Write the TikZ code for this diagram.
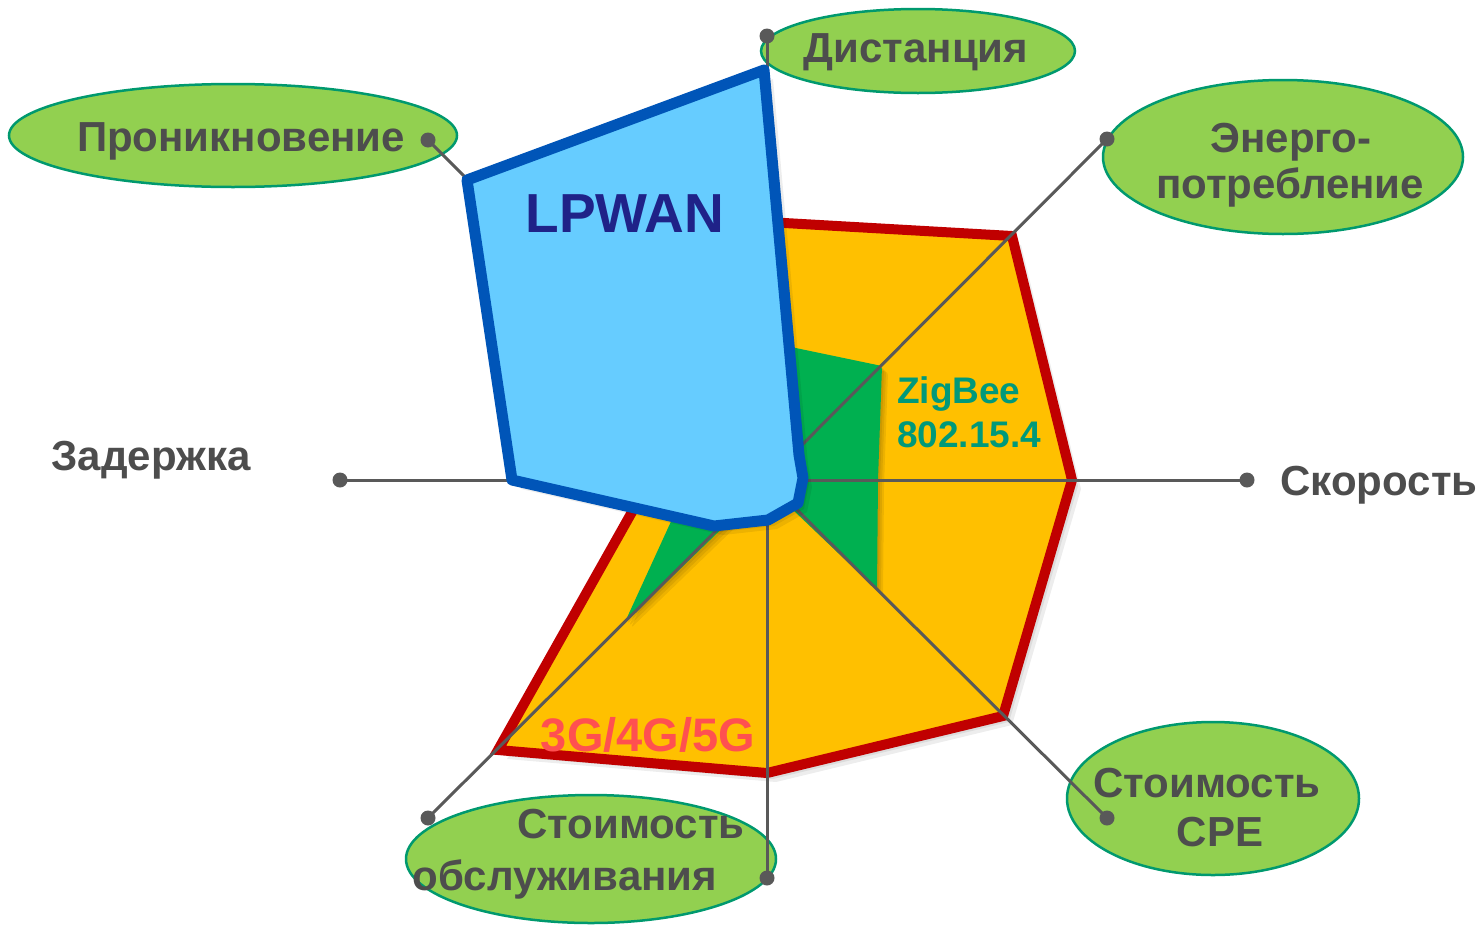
\documentclass[tikz,border=0pt]{standalone}
\usepackage{fontspec}
\setmainfont{Liberation Sans}
\usetikzlibrary{shapes.geometric}
\definecolor{bubblefill}{HTML}{92D050}
\definecolor{bubbleline}{HTML}{00996E}
\definecolor{axisgrey}{HTML}{595959}
\definecolor{labelgrey}{HTML}{4D4D4D}
\definecolor{orangefill}{HTML}{FFC000}
\definecolor{redline}{HTML}{C00000}
\definecolor{greenfill}{HTML}{00B050}
\definecolor{bluefill}{HTML}{66CCFF}
\definecolor{blueline}{HTML}{0055B8}
\definecolor{navytext}{HTML}{1F2288}
\definecolor{tealtext}{HTML}{00997A}
\definecolor{redtext}{HTML}{FF5050}
\tikzset{
  bubble/.style={ellipse, draw=bubbleline, fill=bubblefill, line width=2.5pt, inner sep=0pt},
  lbl/.style={font=\bfseries\fontsize{42pt}{48pt}\selectfont, text=labelgrey, anchor=base, inner sep=0pt},
  axisline/.style={draw=axisgrey, line width=3pt},
  enddot/.style={circle, fill=axisgrey, minimum size=15pt, inner sep=0pt},
  shadowfill/.style={fill=black, fill opacity=0.07},
}
\begin{document}
\begin{tikzpicture}[x=1pt,y=-1pt]
\useasboundingbox (0,0) rectangle (1480,924);

% bubbles
\node[bubble, minimum width=448pt, minimum height=103pt] (bpen) at (233,135.5) {};
\node[bubble, minimum width=314pt, minimum height=84pt] (bdist) at (918,51) {};
\node[bubble, minimum width=360pt, minimum height=154pt] (benergy) at (1283,157) {};
\node[bubble, minimum width=292pt, minimum height=153pt] (bcpe) at (1213,798.5) {};
\node[bubble, minimum width=370pt, minimum height=128pt] (bserv) at (591,859) {};

% orange polygon (3G/4G/5G)
\foreach \s in {3,6,9}
  \fill[shadowfill, shift={(\s,\s)}] (767,222) -- (1012,236) -- (1072,480) -- (1003,716) -- (767,773) -- (498,750) -- (650,480) -- (700,413) -- cycle;
\filldraw[fill=orangefill, draw=redline, line width=10pt, line join=miter]
  (767,222) -- (1012,236) -- (1072,480) -- (1003,716) -- (767,773) -- (498,750) -- (650,480) -- (700,413) -- cycle;

% green polygon (ZigBee)
\foreach \s in {2,4,6}
  \fill[shadowfill, shift={(\s,\s)}, rounded corners=3pt] (767,342) -- (882,366) -- (878,480) -- (877,590) -- (767,485) -- (625,622) -- (690,480) -- (715,428) -- cycle;
\fill[greenfill, rounded corners=3pt]
  (767,342) -- (882,366) -- (878,480) -- (877,590) -- (767,485) -- (625,622) -- (690,480) -- (715,428) -- cycle;

% axes
\coordinate (c) at (767,480);
\node[enddot] (dpen) at (428,140) {};
\node[enddot] (ddist) at (767,36) {};
\node[enddot] (denergy) at (1107,139) {};
\node[enddot] (dspeed) at (1247,480) {};
\node[enddot] (dcpe) at (1107,818) {};
\node[enddot] (dserv) at (767,878) {};
\node[enddot] (dmaint) at (428,818) {};
\node[enddot] (ddelay) at (340,480) {};
\foreach \d in {dpen,ddist,denergy,dspeed,dcpe,dserv,dmaint,ddelay}
  \draw[axisline] (c) -- (\d.center);

% blue polygon (LPWAN)
\foreach \s in {3,6,9}
  \fill[shadowfill, shift={(\s,\s)}] (764,70) -- (799,455) -- (803,478) -- (798,503) -- (768,520) -- (714,526) -- (512,480) -- (467,180) -- cycle;
\filldraw[fill=bluefill, draw=blueline, line width=11pt, line join=round]
  (764,70) -- (799,455) -- (803,478) -- (798,503) -- (768,520) -- (714,526) -- (512,480) -- (467,180) -- cycle;

% polygon labels
\node[anchor=base, inner sep=0pt, font=\bfseries\fontsize{55pt}{60pt}\selectfont, text=navytext] (tlpwan) at (625,232) {LPWAN};
\node[anchor=base west, inner sep=0pt, font=\bfseries\fontsize{37pt}{43pt}\selectfont, text=tealtext] (tzig1) at (897,403) {ZigBee};
\node[anchor=base west, inner sep=0pt, font=\bfseries\fontsize{37pt}{43pt}\selectfont, text=tealtext] (tzig2) at (897,447) {802.15.4};
\node[anchor=base, inner sep=0pt, font=\bfseries\fontsize{47pt}{52pt}\selectfont, text=redtext] (tcell) at (648,751) {3G/4G/5G};

% axis labels
\node[lbl] (tpen) at (241,151) {Проникновение};
\node[lbl] (tdist) at (916,62) {Дистанция};
\node[lbl] (tenergy1) at (1291,152) {Энерго-};
\node[lbl] (tenergy2) at (1290,198) {потребление};
\node[lbl] (tspeed) at (1379,495) {Скорость};
\node[lbl] (tcpe1) at (1207,797) {Стоимость};
\node[lbl] (tcpe2) at (1220,846) {CPE};
\node[lbl] (tserv1) at (631,838) {Стоимость};
\node[lbl] (tserv2) at (565,890) {обслуживания};
\node[lbl] (tdelay) at (151,470) {Задержка};
\end{tikzpicture}
\end{document}
